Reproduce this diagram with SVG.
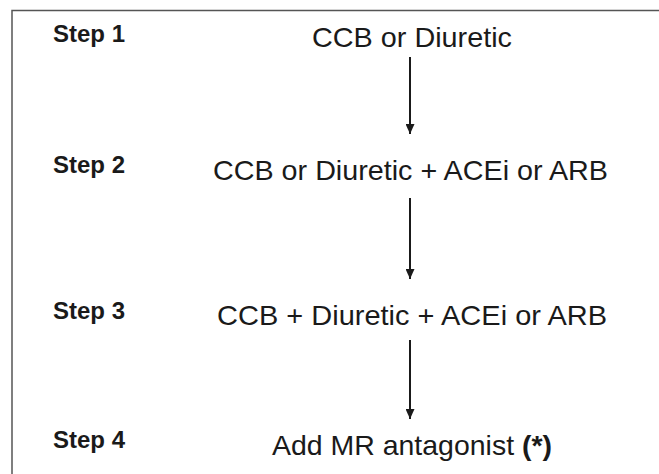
<svg xmlns="http://www.w3.org/2000/svg" width="659" height="474" viewBox="0 0 659 474">
<defs>
<style>
.step{font-family:"Liberation Sans",Arial,sans-serif;font-weight:bold;font-size:23px;fill:#1a1a1a}
.main{font-family:"Liberation Sans",Arial,sans-serif;font-size:28px;fill:#1a1a1a;text-anchor:middle}
.conn{stroke:#1a1a1a;stroke-width:2;fill:none;marker-end:url(#arr)}
</style>
<marker id="arr" markerWidth="10" markerHeight="9" refX="10" refY="4.5" orient="auto" markerUnits="userSpaceOnUse" viewBox="0 0 10 9">
<path d="M0,0 L10,4.5 L0,9 Z" fill="#1a1a1a"/>
</marker>
</defs>
<rect width="659" height="474" fill="#fff"/>
<path d="M12,474 V10.5 H659" stroke="#555" stroke-width="1.5" fill="none"/>
<g id="step1"><text class="step" x="53" y="42" textLength="72" lengthAdjust="spacingAndGlyphs">Step 1</text>
<text class="main" x="412" y="47" textLength="200" lengthAdjust="spacingAndGlyphs">CCB or Diuretic</text></g>
<g id="step2"><text class="step" x="53" y="173" textLength="72" lengthAdjust="spacingAndGlyphs">Step 2</text>
<text class="main" x="410.5" y="180" textLength="395" lengthAdjust="spacingAndGlyphs">CCB or Diuretic + ACEi or ARB</text></g>
<g id="step3"><text class="step" x="53" y="319" textLength="72" lengthAdjust="spacingAndGlyphs">Step 3</text>
<text class="main" x="412" y="325" textLength="390" lengthAdjust="spacingAndGlyphs">CCB + Diuretic + ACEi or ARB</text></g>
<g id="step4"><text class="step" x="53" y="448" textLength="72" lengthAdjust="spacingAndGlyphs">Step 4</text>
<text class="main" x="412" y="455" textLength="280" lengthAdjust="spacingAndGlyphs">Add MR antagonist <tspan font-weight="bold">(*)</tspan></text></g>
<g id="connectors">
<line class="conn" x1="410" y1="57" x2="410" y2="134"/>
<line class="conn" x1="410" y1="198" x2="410" y2="279"/>
<line class="conn" x1="410" y1="340" x2="410" y2="419"/>
</g>
</svg>
